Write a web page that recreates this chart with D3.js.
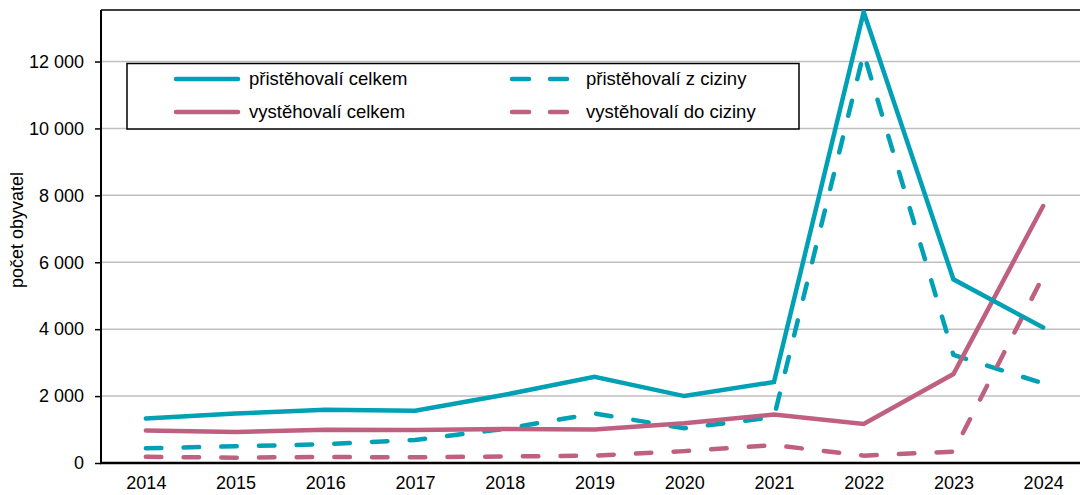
<!DOCTYPE html>
<html>
<head>
<meta charset="utf-8">
<script src="https://cdn.jsdelivr.net/npm/d3@7"></script>
<style>
  body { margin: 0; background: #fff; }
  text { font-family: "Liberation Sans", Arial, sans-serif; fill: #000; }
</style>
</head>
<body>
<svg id="chart" width="1080" height="495"></svg>
<script>
var years = ['2014','2015','2016','2017','2018','2019','2020','2021','2022','2023','2024'];
var prisCelkem = [1330, 1480, 1590, 1560, 2040, 2580, 2000, 2420, 13480, 5490, 4050];
var vystCelkem = [975, 925, 995, 990, 1015, 1005, 1185, 1450, 1165, 2660, 7680];
var prisCizina = [440, 500, 560, 690, 1020, 1480, 1040, 1370, 12250, 3230, 2380];
var vystCizina = [185, 160, 180, 170, 195, 220, 355, 535, 220, 340, 5580];
var yTicks = [0, 2000, 4000, 6000, 8000, 10000, 12000];

var series = [
  {name: 'přistěhovalí celkem', values: prisCelkem, color: '#00a0b5', dash: null},
  {name: 'přistěhovalí z ciziny', values: prisCizina, color: '#00a0b5', dash: '15.5,22.2'},
  {name: 'vystěhovalí celkem', values: vystCelkem, color: '#c06080', dash: null},
  {name: 'vystěhovalí do ciziny', values: vystCizina, color: '#c06080', dash: '15.5,22.2'}
];

var svg = d3.select('#chart');
var pL = 101, pR = 1088, pT = 10, pB = 463;

var x = d3.scalePoint().domain(years).range([pL, pR]).padding(0.5);
var y = d3.scaleLinear().domain([0, 13540]).range([pB, pT]);

// gridlines
svg.append('g').selectAll('line').data(yTicks.slice(1)).enter().append('line')
  .attr('x1', pL).attr('x2', 1080)
  .attr('y1', function(d){ return y(d); }).attr('y2', function(d){ return y(d); })
  .attr('stroke', '#bfbfbf').attr('stroke-width', 1.5);

// top border
svg.append('line').attr('x1', pL).attr('x2', 1080).attr('y1', pT).attr('y2', pT)
  .attr('stroke', '#000').attr('stroke-width', 1.5);

// y axis
var fmt = function(d){ return d3.format(',')(d).replace(/,/g, ' '); };
var yAxis = svg.append('g').attr('transform', 'translate(' + pL + ',0)')
  .call(d3.axisLeft(y).tickValues(yTicks).tickSize(6).tickPadding(11).tickFormat(fmt));
yAxis.select('.domain').remove();
yAxis.selectAll('line').attr('stroke', '#000').attr('stroke-width', 1.5);
yAxis.selectAll('text').style('font-size', '18px').attr('fill', '#000');
svg.append('line').attr('x1', pL).attr('x2', pL).attr('y1', pT).attr('y2', pB)
  .attr('stroke', '#000').attr('stroke-width', 2);

// x axis
var xAxis = svg.append('g').attr('transform', 'translate(0,' + pB + ')')
  .call(d3.axisBottom(x).tickSize(0).tickPadding(13));
xAxis.select('.domain').remove();
xAxis.selectAll('text').style('font-size', '18px').attr('fill', '#000');
svg.append('line').attr('x1', pL - 1).attr('x2', 1080).attr('y1', pB).attr('y2', pB)
  .attr('stroke', '#000').attr('stroke-width', 2.5);

// y title
svg.append('text').attr('transform', 'translate(23,230) rotate(-90)')
  .attr('text-anchor', 'middle').style('font-size', '18px').text('počet obyvatel');

// lines
var line = d3.line()
  .x(function(d, i){ return x(years[i]); })
  .y(function(d){ return y(d); });

svg.append('defs').append('clipPath').attr('id', 'clip').append('rect')
  .attr('x', pL).attr('y', pT).attr('width', 1080 - pL).attr('height', pB - pT);

var order = [series[1], series[3], series[2], series[0]];
svg.append('g').attr('clip-path', 'url(#clip)').selectAll('path').data(order).enter().append('path')
  .attr('d', function(d){ return line(d.values); })
  .attr('fill', 'none')
  .attr('stroke', function(d){ return d.color; })
  .attr('stroke-width', 4.5)
  .attr('stroke-linecap', 'round')
  .attr('stroke-linejoin', function(d){ return d.dash ? 'round' : 'miter'; })
  .attr('stroke-dasharray', function(d){ return d.dash; });

// legend
var lg = svg.append('g');
lg.append('rect').attr('x', 127).attr('y', 63.5).attr('width', 672).attr('height', 65.5)
  .attr('fill', '#fff').attr('stroke', '#000').attr('stroke-width', 1.5);
var legendItems = [
  {s: series[0], x: 176, y: 79},
  {s: series[2], x: 176, y: 112},
  {s: series[1], x: 512, y: 79},
  {s: series[3], x: 512, y: 112}
];
legendItems.forEach(function(it){
  lg.append('line').attr('x1', it.x).attr('x2', it.x + 62).attr('y1', it.y).attr('y2', it.y)
    .attr('stroke', it.s.color).attr('stroke-width', 4.5).attr('stroke-linecap', 'round')
    .attr('stroke-dasharray', it.s.dash ? '17,21' : null);
  lg.append('text').attr('x', it.s.dash ? 586 : 249).attr('y', it.y + 6)
    .style('font-size', '18.5px').text(it.s.name);
});
</script>
</body>
</html>
